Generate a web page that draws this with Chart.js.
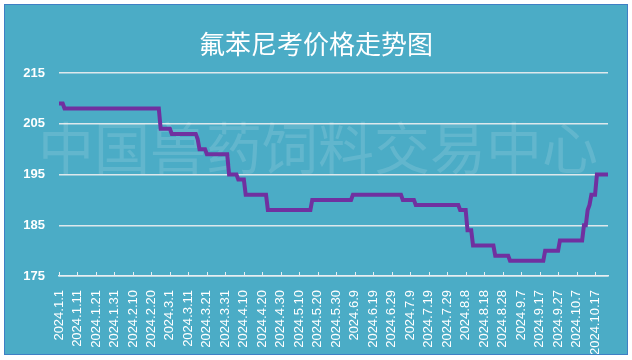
<!DOCTYPE html>
<html>
<head>
<meta charset="utf-8">
<script src="https://cdn.jsdelivr.net/npm/chart.js@4.4.1/dist/chart.umd.min.js"></script>
<style>
  html, body { margin: 0; padding: 0; background: #ffffff; }
  #box {
    position: absolute; left: 4px; top: 4px;
    width: 622px; height: 349px;
    background: #4bacc6;
    border: 1px solid #3f7fc4;
  }
  canvas { display: block; }
</style>
</head>
<body>
<div id="box"><canvas id="priceChart" width="622" height="349"></canvas></div>
<script>
// price changes: each price holds from its date until the next change
const changeDates = ['2024.1.1', '2024.1.4', '2024.2.25', '2024.3.2', '2024.3.16', '2024.3.17',
  '2024.3.21', '2024.4.2', '2024.4.7', '2024.4.11', '2024.4.23', '2024.5.17', '2024.6.8',
  '2024.7.5', '2024.7.12', '2024.8.5', '2024.8.9', '2024.8.12', '2024.8.24', '2024.9.1',
  '2024.9.20', '2024.9.28', '2024.10.11', '2024.10.13', '2024.10.14', '2024.10.15', '2024.10.18'];
const prices = [209, 208, 204, 203, 202, 200, 199, 195, 194, 191, 188, 190, 191,
  190, 189, 188, 184, 181, 179, 178, 180, 182, 185, 188, 189, 191, 195];
const lastDate = '2024.10.24';

const xTickLabels = ['2024.1.1', '2024.1.11', '2024.1.21', '2024.1.31', '2024.2.10', '2024.2.20',
  '2024.3.1', '2024.3.11', '2024.3.21', '2024.3.31', '2024.4.10', '2024.4.20', '2024.4.30',
  '2024.5.10', '2024.5.20', '2024.5.30', '2024.6.9', '2024.6.19', '2024.6.29', '2024.7.9',
  '2024.7.19', '2024.7.29', '2024.8.8', '2024.8.18', '2024.8.28', '2024.9.7', '2024.9.17',
  '2024.9.27', '2024.10.7', '2024.10.17'];
const yTicks = [175, 185, 195, 205, 215];

const title = '氟苯尼考价格走势图';
const watermark = '中国兽药饲料交易中心';

function dayIndex(s) {
  const [y, m, d] = s.split('.').map(Number);
  return Math.round((Date.UTC(y, m - 1, d) - Date.UTC(y, 0, 1)) / 86400000);
}

function buildPoints() {
  const pts = [];
  for (let i = 0; i < changeDates.length; i++) {
    const start = dayIndex(changeDates[i]);
    const end = i + 1 < changeDates.length ? dayIndex(changeDates[i + 1]) - 1 : dayIndex(lastDate);
    pts.push({ x: start, y: prices[i] });
    if (end > start) pts.push({ x: end, y: prices[i] });
  }
  return pts;
}

const decorPlugin = {
  id: 'decor',
  beforeDatasetsDraw(chart) {
    const ctx = chart.ctx;
    ctx.save();
    ctx.fillStyle = 'rgba(255,255,255,0.13)';
    ctx.font = '56px "Noto Sans CJK SC"';
    ctx.textAlign = 'left';
    ctx.textBaseline = 'middle';
    ctx.fillText(watermark, 33, 143);
    ctx.restore();
  },
  afterDraw(chart) {
    const ctx = chart.ctx;
    const x = chart.scales.x;
    ctx.save();
    ctx.strokeStyle = '#e6eef2';
    ctx.lineWidth = 1;
    for (const t of x.ticks) {
      const px = Math.round(x.getPixelForValue(t.value)) + 0.5;
      ctx.beginPath();
      ctx.moveTo(px, x.top);
      ctx.lineTo(px, x.top - 4);
      ctx.stroke();
    }
    ctx.fillStyle = '#ffffff';
    ctx.font = '26px "Noto Sans CJK SC"';
    ctx.textAlign = 'center';
    ctx.textBaseline = 'middle';
    ctx.fillText(title, chart.width / 2, 39);
    ctx.restore();
  }
};

new Chart(document.getElementById('priceChart'), {
  type: 'line',
  data: {
    datasets: [{
      label: title,
      data: buildPoints(),
      borderColor: '#7030a0',
      borderWidth: 4,
      pointRadius: 0,
      tension: 0,
      fill: false
    }]
  },
  options: {
    responsive: false,
    animation: false,
    layout: { padding: { left: 0, right: 19, top: 68, bottom: 0 } },
    plugins: {
      legend: { display: false },
      tooltip: { enabled: false }
    },
    scales: {
      x: {
        type: 'linear',
        min: 0,
        max: dayIndex(lastDate),
        afterFit: (s) => { s.height = 78; },
        grid: { display: false },
        border: { display: true, color: '#e6eef2', width: 1.5 },
        ticks: {
          stepSize: 10,
          includeBounds: false,
          autoSkip: false,
          minRotation: 90,
          maxRotation: 90,
          padding: 6,
          color: '#ffffff',
          font: { family: '"Liberation Sans", Arial, sans-serif', size: 13 },
          callback: (v) => xTickLabels[Math.round(v / 10)]
        }
      },
      y: {
        min: 175,
        max: 215,
        afterFit: (s) => { s.width = 54; },
        afterBuildTicks: (s) => { s.ticks = yTicks.map(v => ({ value: v })); },
        grid: { color: '#dde8ec', lineWidth: 1.5, drawTicks: false },
        border: { display: false },
        ticks: {
          padding: 14,
          color: '#ffffff',
          font: { family: '"Liberation Sans", Arial, sans-serif', size: 13, weight: 'bold' }
        }
      }
    }
  },
  plugins: [decorPlugin]
});
</script>
</body>
</html>
